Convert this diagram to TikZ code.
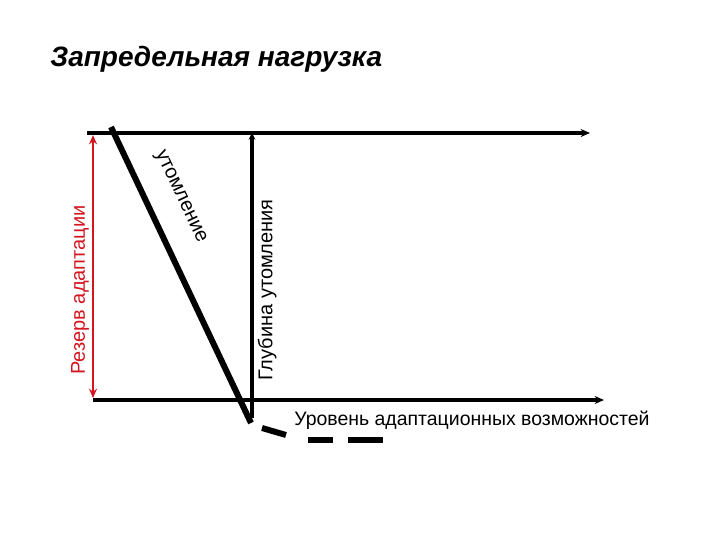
\documentclass[tikz,border=0pt]{standalone}
\usepackage{fontspec}
\setmainfont{Liberation Sans}
\usetikzlibrary{arrows.meta}
\definecolor{resred}{RGB}{212,22,32}
\tikzset{
  axis/.style={line width=2.4pt,-{Stealth[length=7pt,width=6pt]}},
  thick line/.style={line width=4.5pt},
  lbl/.style={inner sep=0pt,font=\fontsize{15}{17}\selectfont},
}
\begin{document}
\begin{tikzpicture}[x=0.75pt,y=-0.75pt]
\useasboundingbox (0,0) rectangle (720,540);
% title
\node[anchor=west,inner sep=0pt,font=\fontsize{21}{24}\selectfont\bfseries\itshape] (title) at (50,59) {Запредельная нагрузка};
% coordinates
\coordinate (tl) at (87,133);
\coordinate (tr) at (590,133);
\coordinate (bl) at (93,400);
\coordinate (br) at (604,400);
\coordinate (dtop) at (111,127);
\coordinate (dbot) at (251,423);
\coordinate (vtop) at (252,133);
\coordinate (vbot) at (252,418);
\coordinate (r1) at (93,135);
\coordinate (r2) at (93,398);
\coordinate (s1a) at (262,428);
\coordinate (s1b) at (286,435);
\coordinate (s2a) at (308,440);
\coordinate (s2b) at (333,440);
\coordinate (s3a) at (348,440);
\coordinate (s3b) at (383,440);
% axes
\draw[axis] (tl) -- (tr);
\draw[axis] (bl) -- (br);
\draw[line width=2.4pt,-{Stealth[length=5pt,width=5pt]}] (vbot) -- (vtop);
\draw[resred,line width=1.8pt,{Stealth[length=7pt,width=6pt]}-{Stealth[length=7pt,width=6pt]}] (r1) -- (r2);
% diagonal
\draw[thick line] (dtop) -- (dbot);
% dashes
\draw[thick line] (s1a) -- (s1b);
\draw[thick line] (s2a) -- (s2b);
\draw[thick line] (s3a) -- (s3b);
% labels
\node[lbl,rotate=-64.7] (ut) at (180,197) {утомление};
\node[lbl,rotate=90] (gl) at (267,290) {Глубина утомления};
\node[lbl,rotate=90,text=resred] (rez) at (80,290) {Резерв адаптации};
\node[lbl,anchor=west,font=\fontsize{14.6}{17}\selectfont] (lvl) at (294,420) {Уровень адаптационных возможностей};
\end{tikzpicture}
\end{document}
